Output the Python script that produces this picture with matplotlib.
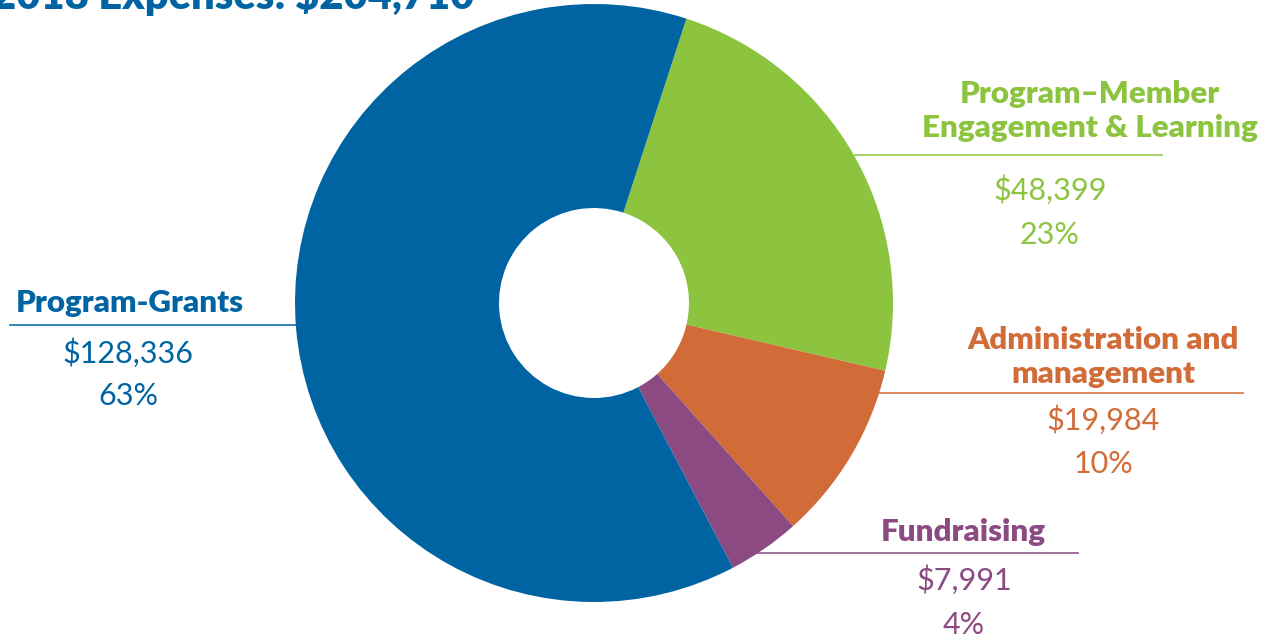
import matplotlib
matplotlib.use("Agg")
import matplotlib.pyplot as plt

categories = ["Program–Member\nEngagement & Learning", "Administration and\nmanagement",
              "Fundraising", "Program-Grants"]
amounts = [48399, 19984, 7991, 128336]
percents = ["23%", "10%", "4%", "63%"]
colors = ["#8CC43F", "#D16B38", "#8B4A82", "#0064A2"]
title = "2018 Expenses: $204,710"

W, H = 1274, 638
fig = plt.figure(figsize=(W / 100, H / 100), dpi=100)
ax = fig.add_axes([0, 0, 1, 1])

cx, cy, R, r_in = 594, H - 303, 299, 95
ax.pie(amounts, colors=colors, startangle=72, counterclock=False,
       center=(cx, cy), radius=R, frame=True,
       wedgeprops=dict(width=R - r_in, linewidth=0))
ax.set_xlim(0, W)
ax.set_ylim(0, H)
ax.set_aspect("equal")
ax.axis("off")

FONT = "Lato"
# label layout: (title_y, line_y, line_x0, line_x1, text_x, value_x, value_y, pct_y)
layout = [
    (111, 155, 855, 1162, 1090, 1050, 190, 235),
    (357, 393, 878, 1243, 1103, 1103, 420, 464),
    (532, 553, 755, 1078, 963, 964, 580, 625),
    (303, 325, 10, 296, 130, 128, 353, 396),
]
for cat, amt, pct, col, (ty, ly, lx0, lx1, tx, vx, vy, py) in zip(
        categories, amounts, percents, colors, layout):
    ax.text(tx, H - ty, cat, ha="center", va="center", fontsize=22.5,
            fontweight="heavy", color=col, family=FONT, linespacing=1.3)
    ax.plot([lx0, lx1], [H - ly, H - ly], color=col, lw=1.3, alpha=0.85)
    ax.text(vx, H - vy, f"${amt:,}", ha="center", va="center", fontsize=22,
            fontweight="normal", color=col, family=FONT)
    ax.text(vx, H - py, pct, ha="center", va="center", fontsize=22,
            fontweight="normal", color=col, family=FONT)

ax.text(-8, H - 9, title, ha="left", va="baseline", fontsize=30,
        fontweight="heavy", color="#0064A2", family=FONT)

fig.savefig("out.png", dpi=100)
